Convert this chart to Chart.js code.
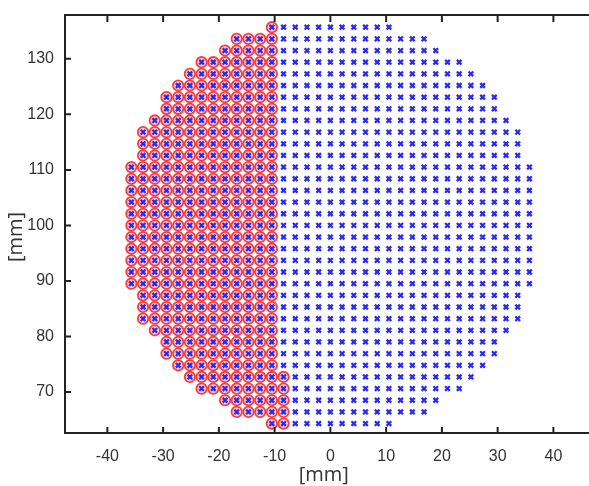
<!DOCTYPE html>
<html>
<head>
<meta charset="utf-8">
<script src="https://cdn.jsdelivr.net/npm/chart.js@4/dist/chart.umd.min.js"></script>
<style>
  html, body { margin: 0; padding: 0; background: #fff; overflow: hidden; width: 589px; height: 486px; }
  #wrap { position: absolute; left: 0; top: 0; width: 660px; height: 486px; }
</style>
</head>
<body>
<div id="wrap"><canvas id="c"></canvas></div>
<script>
// Grid column positions [mm]
const colX = [-35.7, -33.6, -31.5, -29.4, -27.3, -25.2, -23.1, -21.0, -18.9, -16.8, -14.7, -12.6,
  -10.5, -8.4, -6.3, -4.2, -2.1, 0, 2.1, 4.2, 6.3, 8.4, 10.5, 12.6, 14.7, 16.8, 18.9, 21.0,
  23.1, 25.2, 27.3, 29.4, 31.5, 33.6, 35.7];
// Grid row positions [mm], top to bottom
const rowY = [135.7, 133.6, 131.5, 129.4, 127.3, 125.2, 123.1, 121.0, 118.9, 116.8, 114.7, 112.6,
  110.5, 108.4, 106.3, 104.2, 102.1, 100.0, 97.9, 95.8, 93.7, 91.6, 89.5, 87.4, 85.3, 83.2,
  81.1, 79.0, 76.9, 74.8, 72.7, 70.6, 68.5, 66.4, 64.3];
// Right-most blue point of each row [mm]
const rowXMax = [10.5, 16.8, 18.9, 23.1, 25.2, 27.3, 29.4, 29.4, 31.5, 33.6, 33.6, 33.6,
  35.7, 35.7, 35.7, 35.7, 35.7, 35.7, 35.7, 35.7, 35.7, 35.7, 35.7,
  33.6, 33.6, 33.6, 31.5, 29.4, 29.4, 27.3, 25.2, 23.1, 18.9, 16.8, 10.5];
// Left-most blue point of each row [mm]
const rowXMin = [-10.5, -16.8, -18.9, -23.1, -25.2, -27.3, -29.4, -29.4, -31.5, -33.6, -33.6, -33.6,
  -35.7, -35.7, -35.7, -35.7, -35.7, -35.7, -35.7, -35.7, -35.7, -35.7, -35.7,
  -33.6, -33.6, -33.6, -31.5, -29.4, -29.4, -27.3, -25.2, -23.1, -18.9, -16.8, -10.5];
// Right-most red circled point of each row [mm]
const redXMax = [-10.5, -10.5, -10.5, -10.5, -10.5, -10.5, -10.5, -10.5, -10.5, -10.5, -10.5, -10.5,
  -10.5, -10.5, -10.5, -10.5, -10.5, -10.5, -10.5, -10.5, -10.5, -10.5, -10.5,
  -10.5, -10.5, -10.5, -10.5, -10.5, -10.5, -10.5, -8.4, -8.4, -8.4, -8.4, -8.4];
// Tick values
const xTicks = [-40, -30, -20, -10, 0, 10, 20, 30, 40];
const yTicks = [70, 80, 90, 100, 110, 120, 130];

const bluePts = [];
const redPts = [];
rowY.forEach((yv, i) => {
  colX.forEach(xv => {
    if (xv >= rowXMin[i] - 0.01 && xv <= rowXMax[i] + 0.01) {
      bluePts.push({ x: xv, y: yv });
      if (xv <= redXMax[i] + 0.01) redPts.push({ x: xv, y: yv });
    }
  });
});

const frame = {
  id: 'frame',
  afterDatasetsDraw(chart) {
    const { ctx, chartArea: a, scales: { x, y } } = chart;
    ctx.save();
    ctx.strokeStyle = '#222';
    ctx.lineWidth = 2;
    ctx.beginPath();
    ctx.moveTo(a.left - 1, a.top);
    ctx.lineTo(a.right, a.top);
    xTicks.forEach(v => {
      const px = x.getPixelForValue(v);
      ctx.moveTo(px, a.bottom);
      ctx.lineTo(px, a.bottom - 6);
      ctx.moveTo(px, a.top);
      ctx.lineTo(px, a.top + 7);
    });
    yTicks.forEach(v => {
      const py = y.getPixelForValue(v);
      ctx.moveTo(a.left, py);
      ctx.lineTo(a.left + 6, py);
    });
    ctx.stroke();
    ctx.restore();
  }
};

new Chart(document.getElementById('c'), {
  type: 'scatter',
  data: {
    datasets: [
      {
        label: 'all',
        data: bluePts,
        order: 0,
        pointStyle: 'crossRot',
        pointRadius: 3.3,
        borderWidth: 2.3,
        borderColor: '#2a2af2',
        backgroundColor: '#2a2af2'
      },
      {
        label: 'selected',
        data: redPts,
        order: 1,
        pointStyle: 'circle',
        pointRadius: 5.2,
        borderWidth: 1.8,
        borderColor: '#ff3a3a',
        backgroundColor: 'rgba(255,140,150,0.4)'
      }
    ]
  },
  options: {
    responsive: true,
    maintainAspectRatio: false,
    animation: false,
    layout: { padding: { top: 15, right: 62, left: 0, bottom: 0 } },
    plugins: { legend: { display: false }, tooltip: { enabled: false } },
    scales: {
      x: {
        type: 'linear',
        min: -47.6,
        max: 48,
        afterBuildTicks: s => { s.ticks = xTicks.map(v => ({ value: v })); },
        afterFit: s => { s.height = 53; },
        grid: { display: false },
        border: { display: true, color: '#222', width: 2 },
        ticks: { padding: 6, color: '#333', font: { family: 'Liberation Sans', size: 16 } },
        title: { display: true, text: '[mm]   ', color: '#333', font: { family: 'Open Sans', size: 20, lineHeight: 1 }, padding: { top: 0, bottom: 1 } }
      },
      y: {
        type: 'linear',
        min: 62.6,
        max: 137.9,
        afterBuildTicks: s => { s.ticks = yTicks.map(v => ({ value: v })); },
        afterFit: s => { s.width = 65; },
        grid: { display: false },
        border: { display: true, color: '#222', width: 2 },
        ticks: { padding: 3, color: '#333', font: { family: 'Liberation Sans', size: 16 } },
        title: { display: true, text: '[mm]     ', color: '#333', font: { family: 'Open Sans', size: 20, lineHeight: 1 }, padding: { top: 6, bottom: 0 } }
      }
    }
  },
  plugins: [frame]
});
</script>
</body>
</html>
